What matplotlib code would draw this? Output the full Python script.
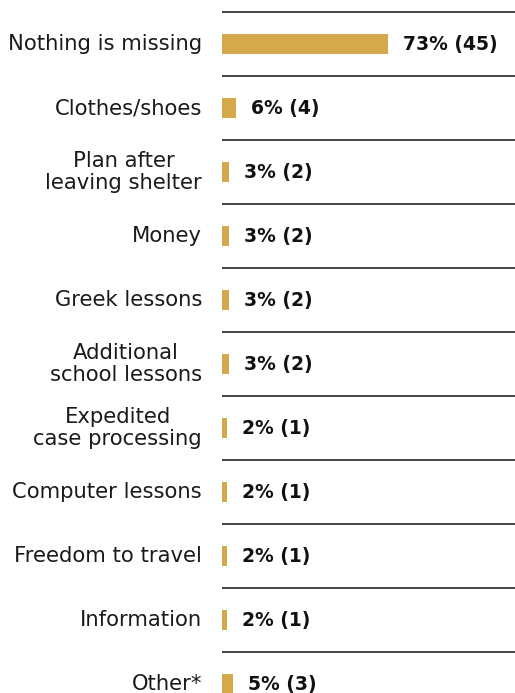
import matplotlib.pyplot as plt
from matplotlib.transforms import offset_copy

categories = ["Nothing is missing", "Clothes/shoes", "Plan after\nleaving shelter",
              "Money", "Greek lessons", "Additional\nschool lessons",
              "Expedited\ncase processing", "Computer lessons",
              "Freedom to travel", "Information", "Other*"]
percents = [73, 6, 3, 3, 3, 3, 2, 2, 2, 2, 5]
counts = [45, 4, 2, 2, 2, 2, 1, 1, 1, 1, 3]

bar_color = "#D5A84A"
plt.rcParams["font.family"] = ["DejaVu Sans"]

fig = plt.figure(figsize=(5.15, 6.93), dpi=100)
ax = fig.add_axes([222 / 515, 0, 1 - 222 / 515, 1])

rows = range(len(categories))
ax.barh(rows, percents, height=0.32, color=bar_color, left=0)

# separator rules between rows
for i in range(len(categories)):
    ax.axhline(i - 0.5, color="#222222", lw=1.2, xmin=0, xmax=1)

lab_tr = offset_copy(ax.transData, fig=fig, x=-20, y=0, units="dots")
val_tr = offset_copy(ax.transData, fig=fig, x=15, y=0, units="dots")
for i, (cat, p, n) in enumerate(zip(categories, percents, counts)):
    ax.text(0, i, cat, transform=lab_tr, ha="right", va="center",
            multialignment="center", fontsize=15.2, color="#1a1a1a",
            linespacing=1.08)
    ax.text(p, i, f"{p}% ({n})", transform=val_tr, ha="left", va="center",
            fontsize=13.5, fontweight="bold", color="#111111")

ax.set_xlim(0, 129)
ax.set_ylim(10.14, -0.69)
ax.axis("off")

fig.savefig("out.png", dpi=100)
